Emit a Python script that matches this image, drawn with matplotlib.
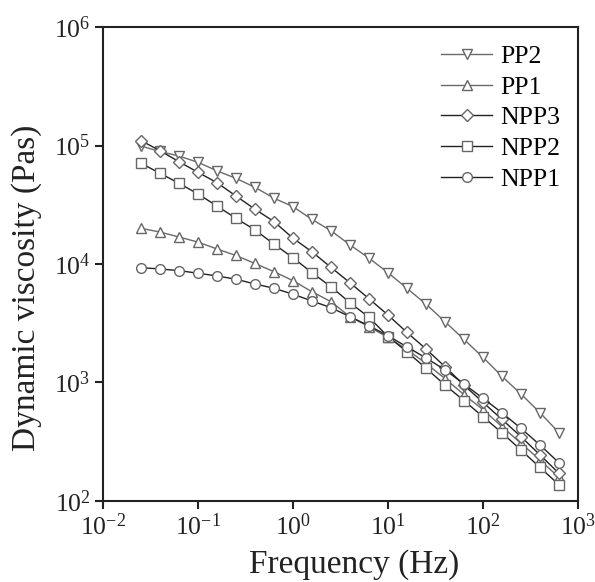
import matplotlib
matplotlib.use("Agg")
import matplotlib.pyplot as plt
from matplotlib.ticker import NullLocator, FixedLocator, FixedFormatter

plt.rcParams['font.family'] = ['Liberation Serif', 'DejaVu Serif']
plt.rcParams['mathtext.fontset'] = 'custom'
plt.rcParams['mathtext.rm'] = 'Liberation Serif'
plt.rcParams['mathtext.it'] = 'Liberation Serif'

freq = [0.0251, 0.0398, 0.0631, 0.1, 0.158, 0.251, 0.398, 0.631, 1.0, 1.58,
        2.51, 3.98, 6.31, 10.0, 15.8, 25.1, 39.8, 63.1, 100.0, 158.0, 251.0,
        398.0, 631.0]

pp2 = [99000, 89000, 81500, 72100, 61200, 52800, 44400, 35900, 30500, 23800,
       19100, 14500, 11200, 8450, 6240, 4590, 3260, 2310, 1630, 1130, 800,
       556, 377]
pp1 = [20000, 18600, 16900, 15300, 13400, 11800, 10100, 8610, 7230, 5840,
       4810, 3590, 2950, 2400, 1900, 1450, 1080, 790, 590, 425, 307, 222, 158]
npp3 = [110000, 90400, 73000, 59400, 48600, 37500, 29000, 22800, 16500, 12700,
        9370, 6950, 5090, 3710, 2650, 1920, 1360, 950, 680, 489, 349, 245, 171]
npp2 = [70800, 58300, 48000, 39000, 30900, 24300, 19400, 14700, 11300, 8450,
        6430, 4710, 3550, 2440, 1820, 1320, 953, 703, 514, 377, 269, 192, 137]
npp1 = [9310, 9080, 8790, 8360, 7930, 7440, 6780, 6240, 5560, 4880, 4280,
        3590, 3010, 2480, 2000, 1610, 1280, 970, 736, 556, 410, 297, 210]

series = [("PP2", pp2, "v", "#6a6a6a"),
          ("PP1", pp1, "^", "#6a6a6a"),
          ("NPP3", npp3, "D", "#222222"),
          ("NPP2", npp2, "s", "#222222"),
          ("NPP1", npp1, "o", "#222222")]

xticks = [1e-2, 1e-1, 1e0, 1e1, 1e2, 1e3]
xticklabels = [r"$10^{-2}$", r"$10^{-1}$", r"$10^{0}$", r"$10^{1}$", r"$10^{2}$", r"$10^{3}$"]
yticks = [1e2, 1e3, 1e4, 1e5, 1e6]
yticklabels = [r"$10^{2}$", r"$10^{3}$", r"$10^{4}$", r"$10^{5}$", r"$10^{6}$"]

fig = plt.figure(figsize=(5.95, 5.82), dpi=100)
ax = fig.add_axes([0.1731, 0.1392, 0.7983, 0.8144])

for name, vals, mk, lc in series:
    ms = 6.0 if mk == "D" else 7.0
    ax.plot(freq, vals, color=lc, lw=1.0, marker=mk, markersize=ms,
            markerfacecolor="white", markeredgecolor="#666666",
            markeredgewidth=1.0, label=name)

ax.set_xscale("log")
ax.set_yscale("log")
ax.set_xlim(1e-2, 1e3)
ax.set_ylim(1e2, 1e6)
ax.xaxis.set_major_locator(FixedLocator(xticks))
ax.xaxis.set_major_formatter(FixedFormatter(xticklabels))
ax.yaxis.set_major_locator(FixedLocator(yticks))
ax.yaxis.set_major_formatter(FixedFormatter(yticklabels))
ax.xaxis.set_minor_locator(NullLocator())
ax.yaxis.set_minor_locator(NullLocator())
ax.tick_params(axis="both", which="major", direction="out", length=6,
               width=1.5, labelsize=18.5, colors="#222222", pad=3)
for sp in ax.spines.values():
    sp.set_linewidth(1.5)
    sp.set_color("#222222")

ax.set_xlabel("Frequency (Hz)", fontsize=24, color="#222222")
ax.set_ylabel("Dynamic viscosity (Pas)", fontsize=24, color="#222222")
ax.xaxis.set_label_coords(0.528, -0.102)
ax.yaxis.set_label_coords(-0.128, 0.45)

leg = ax.legend(loc="upper right", bbox_to_anchor=(1.0, 1.0), frameon=False,
                fontsize=18.5, handlelength=2.0, handletextpad=0.3,
                labelspacing=0.3, borderaxespad=0.3)

fig.savefig("out.png", dpi=100)
